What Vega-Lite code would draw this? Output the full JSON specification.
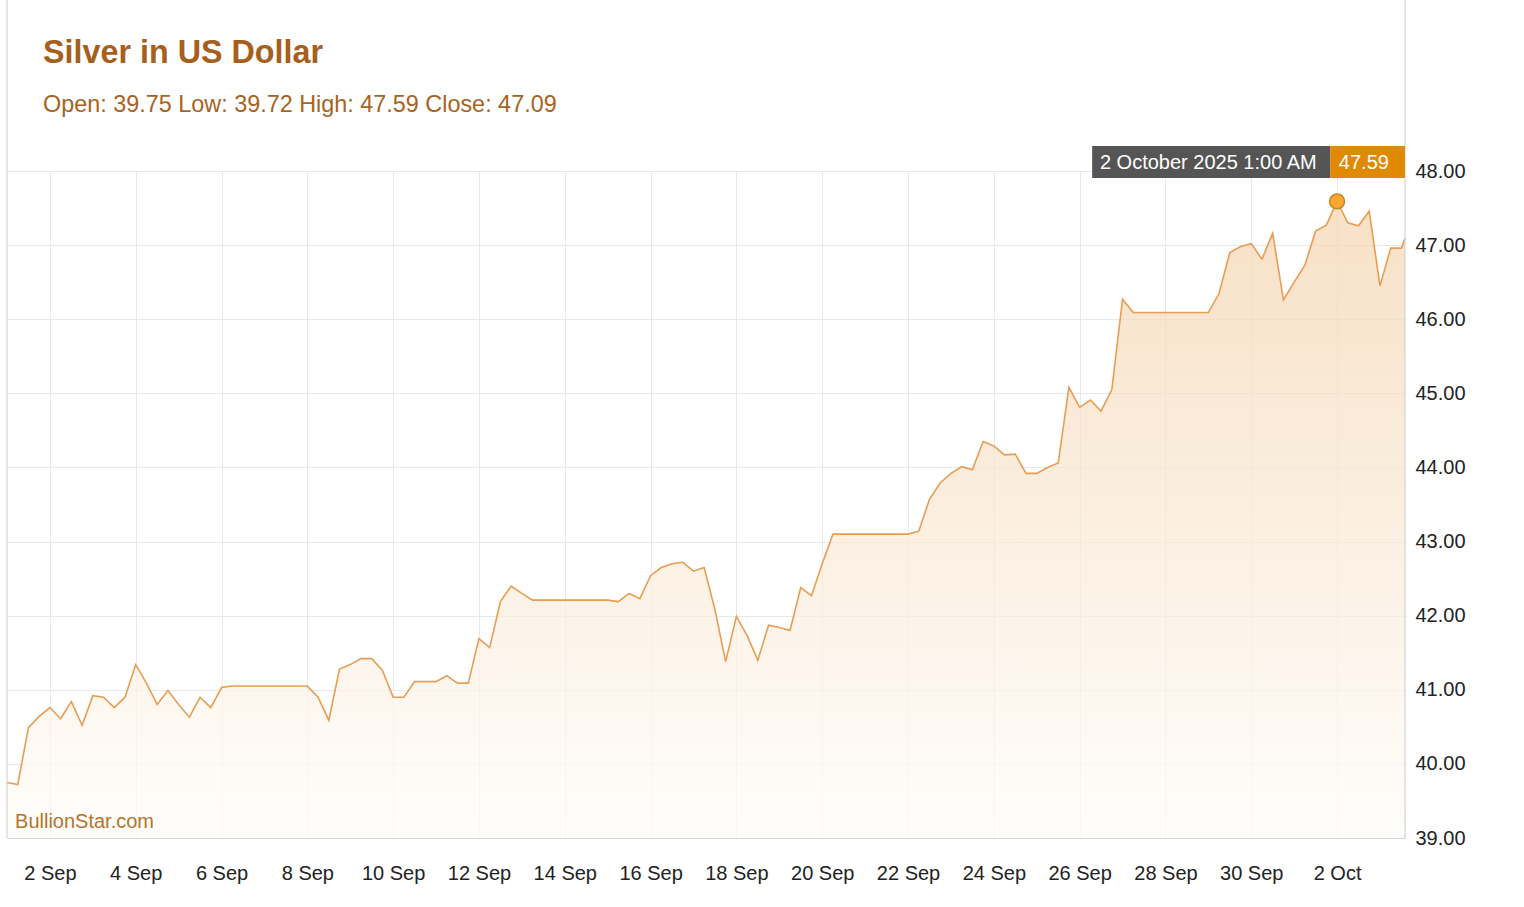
{
  "$schema": "https://vega.github.io/schema/vega-lite/v6.json",
  "width": 1398,
  "height": 667,
  "autosize": {"type": "none"},
  "padding": {"left": 7, "top": 171, "right": 119, "bottom": 69},
  "background": "#ffffff",
  "config": {
    "view": {"stroke": null},
    "font": "Liberation Sans"
  },
  "title": {
    "text": "Silver in US Dollar",
    "subtitle": "Open: 39.75 Low: 39.72 High: 47.59 Close: 47.09",
    "anchor": "start",
    "frame": "group",
    "orient": "top",
    "offset": 0,
    "dx": 36,
    "dy": 117,
    "font": "Liberation Sans",
    "fontSize": 32.3,
    "fontWeight": "bold",
    "color": "#a65f1c",
    "subtitleFont": "Liberation Sans",
    "subtitleFontSize": 23.4,
    "subtitleColor": "#a8631f",
    "subtitlePadding": 25
  },
  "data": {
    "values": [
      {"t": "2025-09-01T00:00Z", "v": 39.75}, {"t": "2025-09-01T06:00Z", "v": 39.72}, {"t": "2025-09-01T12:00Z", "v": 40.49}, {"t": "2025-09-01T18:00Z", "v": 40.64},
      {"t": "2025-09-02T00:00Z", "v": 40.76}, {"t": "2025-09-02T06:00Z", "v": 40.61}, {"t": "2025-09-02T12:00Z", "v": 40.84}, {"t": "2025-09-02T18:00Z", "v": 40.52},
      {"t": "2025-09-03T00:00Z", "v": 40.92}, {"t": "2025-09-03T06:00Z", "v": 40.90}, {"t": "2025-09-03T12:00Z", "v": 40.76}, {"t": "2025-09-03T18:00Z", "v": 40.90},
      {"t": "2025-09-04T00:00Z", "v": 41.34}, {"t": "2025-09-04T06:00Z", "v": 41.09}, {"t": "2025-09-04T12:00Z", "v": 40.80}, {"t": "2025-09-04T18:00Z", "v": 40.99},
      {"t": "2025-09-05T00:00Z", "v": 40.80}, {"t": "2025-09-05T06:00Z", "v": 40.63}, {"t": "2025-09-05T12:00Z", "v": 40.90}, {"t": "2025-09-05T18:00Z", "v": 40.76},
      {"t": "2025-09-06T00:00Z", "v": 41.03}, {"t": "2025-09-06T06:00Z", "v": 41.05}, {"t": "2025-09-06T12:00Z", "v": 41.05}, {"t": "2025-09-06T18:00Z", "v": 41.05},
      {"t": "2025-09-07T00:00Z", "v": 41.05}, {"t": "2025-09-07T06:00Z", "v": 41.05}, {"t": "2025-09-07T12:00Z", "v": 41.05}, {"t": "2025-09-07T18:00Z", "v": 41.05},
      {"t": "2025-09-08T00:00Z", "v": 41.05}, {"t": "2025-09-08T06:00Z", "v": 40.90}, {"t": "2025-09-08T12:00Z", "v": 40.59}, {"t": "2025-09-08T18:00Z", "v": 41.28},
      {"t": "2025-09-09T00:00Z", "v": 41.34}, {"t": "2025-09-09T06:00Z", "v": 41.42}, {"t": "2025-09-09T12:00Z", "v": 41.42}, {"t": "2025-09-09T18:00Z", "v": 41.26},
      {"t": "2025-09-10T00:00Z", "v": 40.90}, {"t": "2025-09-10T06:00Z", "v": 40.90}, {"t": "2025-09-10T12:00Z", "v": 41.11}, {"t": "2025-09-10T18:00Z", "v": 41.11},
      {"t": "2025-09-11T00:00Z", "v": 41.11}, {"t": "2025-09-11T06:00Z", "v": 41.19}, {"t": "2025-09-11T12:00Z", "v": 41.09}, {"t": "2025-09-11T18:00Z", "v": 41.09},
      {"t": "2025-09-12T00:00Z", "v": 41.69}, {"t": "2025-09-12T06:00Z", "v": 41.57}, {"t": "2025-09-12T12:00Z", "v": 42.19}, {"t": "2025-09-12T18:00Z", "v": 42.40},
      {"t": "2025-09-13T00:00Z", "v": 42.30}, {"t": "2025-09-13T06:00Z", "v": 42.21}, {"t": "2025-09-13T12:00Z", "v": 42.21}, {"t": "2025-09-13T18:00Z", "v": 42.21},
      {"t": "2025-09-14T00:00Z", "v": 42.21}, {"t": "2025-09-14T06:00Z", "v": 42.21}, {"t": "2025-09-14T12:00Z", "v": 42.21}, {"t": "2025-09-14T18:00Z", "v": 42.21},
      {"t": "2025-09-15T00:00Z", "v": 42.21}, {"t": "2025-09-15T06:00Z", "v": 42.19}, {"t": "2025-09-15T12:00Z", "v": 42.30}, {"t": "2025-09-15T18:00Z", "v": 42.23},
      {"t": "2025-09-16T00:00Z", "v": 42.54}, {"t": "2025-09-16T06:00Z", "v": 42.65}, {"t": "2025-09-16T12:00Z", "v": 42.70}, {"t": "2025-09-16T18:00Z", "v": 42.72},
      {"t": "2025-09-17T00:00Z", "v": 42.60}, {"t": "2025-09-17T06:00Z", "v": 42.65}, {"t": "2025-09-17T12:00Z", "v": 42.08}, {"t": "2025-09-17T18:00Z", "v": 41.38},
      {"t": "2025-09-18T00:00Z", "v": 41.99}, {"t": "2025-09-18T06:00Z", "v": 41.73}, {"t": "2025-09-18T12:00Z", "v": 41.40}, {"t": "2025-09-18T18:00Z", "v": 41.87},
      {"t": "2025-09-19T00:00Z", "v": 41.84}, {"t": "2025-09-19T06:00Z", "v": 41.80}, {"t": "2025-09-19T12:00Z", "v": 42.38}, {"t": "2025-09-19T18:00Z", "v": 42.27},
      {"t": "2025-09-20T00:00Z", "v": 42.70}, {"t": "2025-09-20T06:00Z", "v": 43.10}, {"t": "2025-09-20T12:00Z", "v": 43.10}, {"t": "2025-09-20T18:00Z", "v": 43.10},
      {"t": "2025-09-21T00:00Z", "v": 43.10}, {"t": "2025-09-21T06:00Z", "v": 43.10}, {"t": "2025-09-21T12:00Z", "v": 43.10}, {"t": "2025-09-21T18:00Z", "v": 43.10},
      {"t": "2025-09-22T00:00Z", "v": 43.10}, {"t": "2025-09-22T06:00Z", "v": 43.14}, {"t": "2025-09-22T12:00Z", "v": 43.57}, {"t": "2025-09-22T18:00Z", "v": 43.79},
      {"t": "2025-09-23T00:00Z", "v": 43.92}, {"t": "2025-09-23T06:00Z", "v": 44.01}, {"t": "2025-09-23T12:00Z", "v": 43.97}, {"t": "2025-09-23T18:00Z", "v": 44.35},
      {"t": "2025-09-24T00:00Z", "v": 44.29}, {"t": "2025-09-24T06:00Z", "v": 44.17}, {"t": "2025-09-24T12:00Z", "v": 44.18}, {"t": "2025-09-24T18:00Z", "v": 43.92},
      {"t": "2025-09-25T00:00Z", "v": 43.92}, {"t": "2025-09-25T06:00Z", "v": 44.00}, {"t": "2025-09-25T12:00Z", "v": 44.06}, {"t": "2025-09-25T18:00Z", "v": 45.08},
      {"t": "2025-09-26T00:00Z", "v": 44.81}, {"t": "2025-09-26T06:00Z", "v": 44.91}, {"t": "2025-09-26T12:00Z", "v": 44.76}, {"t": "2025-09-26T18:00Z", "v": 45.05},
      {"t": "2025-09-27T00:00Z", "v": 46.27}, {"t": "2025-09-27T06:00Z", "v": 46.09}, {"t": "2025-09-27T12:00Z", "v": 46.09}, {"t": "2025-09-27T18:00Z", "v": 46.09},
      {"t": "2025-09-28T00:00Z", "v": 46.09}, {"t": "2025-09-28T06:00Z", "v": 46.09}, {"t": "2025-09-28T12:00Z", "v": 46.09}, {"t": "2025-09-28T18:00Z", "v": 46.09},
      {"t": "2025-09-29T00:00Z", "v": 46.09}, {"t": "2025-09-29T06:00Z", "v": 46.35}, {"t": "2025-09-29T12:00Z", "v": 46.90}, {"t": "2025-09-29T18:00Z", "v": 46.98},
      {"t": "2025-09-30T00:00Z", "v": 47.02}, {"t": "2025-09-30T06:00Z", "v": 46.81}, {"t": "2025-09-30T12:00Z", "v": 47.16}, {"t": "2025-09-30T18:00Z", "v": 46.26},
      {"t": "2025-10-01T00:00Z", "v": 46.50}, {"t": "2025-10-01T06:00Z", "v": 46.73}, {"t": "2025-10-01T12:00Z", "v": 47.19}, {"t": "2025-10-01T18:00Z", "v": 47.27},
      {"t": "2025-10-02T00:00Z", "v": 47.59}, {"t": "2025-10-02T06:00Z", "v": 47.30}, {"t": "2025-10-02T12:00Z", "v": 47.26}, {"t": "2025-10-02T18:00Z", "v": 47.46},
      {"t": "2025-10-03T00:00Z", "v": 46.45}, {"t": "2025-10-03T06:00Z", "v": 46.96}, {"t": "2025-10-03T12:00Z", "v": 46.96}, {"t": "2025-10-03T14:00Z", "v": 47.09}
    ]
  },
  "layer": [
    {
      "mark": {
        "type": "area",
        "interpolate": "linear",
        "color": {
          "gradient": "linear",
          "x1": 0, "y1": 0, "x2": 0, "y2": 1,
          "stops": [
            {"offset": 0, "color": "#f4d3ad"},
            {"offset": 1, "color": "#fffdfa"}
          ]
        },
        "line": {"color": "#e89d52", "strokeWidth": 1.6}
      },
      "encoding": {
        "x": {
          "field": "t",
          "type": "temporal",
          "scale": {
            "type": "utc",
            "domain": [
              {"year": 2025, "month": 9, "date": 1, "hours": 0, "utc": true},
              {"year": 2025, "month": 10, "date": 3, "hours": 14, "utc": true}
            ],
            "nice": false
          },
          "axis": {
            "title": null,
            "values": [
              {"year": 2025, "month": 9, "date": 2, "utc": true},
              {"year": 2025, "month": 9, "date": 4, "utc": true},
              {"year": 2025, "month": 9, "date": 6, "utc": true},
              {"year": 2025, "month": 9, "date": 8, "utc": true},
              {"year": 2025, "month": 9, "date": 10, "utc": true},
              {"year": 2025, "month": 9, "date": 12, "utc": true},
              {"year": 2025, "month": 9, "date": 14, "utc": true},
              {"year": 2025, "month": 9, "date": 16, "utc": true},
              {"year": 2025, "month": 9, "date": 18, "utc": true},
              {"year": 2025, "month": 9, "date": 20, "utc": true},
              {"year": 2025, "month": 9, "date": 22, "utc": true},
              {"year": 2025, "month": 9, "date": 24, "utc": true},
              {"year": 2025, "month": 9, "date": 26, "utc": true},
              {"year": 2025, "month": 9, "date": 28, "utc": true},
              {"year": 2025, "month": 9, "date": 30, "utc": true},
              {"year": 2025, "month": 10, "date": 2, "utc": true}
            ],
            "labelExpr": "utcFormat(datum.value, '%-d %b')",
            "grid": true,
            "gridColor": "#e8e8e8",
            "gridWidth": 1,
            "domain": true,
            "domainColor": "#d4d4d4",
            "domainWidth": 1,
            "ticks": false,
            "labelFont": "Liberation Sans",
            "labelFontSize": 20,
            "labelColor": "#222222",
            "labelPadding": 25,
            "labelFlush": false,
            "labelOverlap": false
          }
        },
        "y": {
          "field": "v",
          "type": "quantitative",
          "scale": {"domain": [39, 48], "nice": false, "zero": false},
          "axis": {
            "orient": "right",
            "title": null,
            "values": [39, 40, 41, 42, 43, 44, 45, 46, 47, 48],
            "format": ".2f",
            "grid": true,
            "gridColor": "#e8e8e8",
            "gridWidth": 1,
            "domain": false,
            "ticks": false,
            "labelFont": "Liberation Sans",
            "labelFontSize": 20,
            "labelColor": "#222222",
            "labelPadding": 10,
            "labelAlign": "left",
            "labelBaseline": "middle"
          }
        },
        "y2": {"datum": 39}
      }
    },
    {
      "transform": [{"filter": {"field": "v", "equal": 47.59}}],
      "mark": {"type": "point", "filled": true, "size": 220, "color": "#f9a832", "stroke": "#c7851f", "strokeWidth": 1.5, "opacity": 1},
      "encoding": {
        "x": {"field": "t", "type": "temporal"},
        "y": {"field": "v", "type": "quantitative"}
      }
    },
    {
      "data": {"values": [{}]},
      "mark": {"type": "rule", "color": "#cccccc", "strokeWidth": 1},
      "encoding": {
        "x": {"datum": {"year": 2025, "month": 9, "date": 1, "hours": 0, "utc": true}, "type": "temporal"},
        "y": {"datum": 39, "type": "quantitative"},
        "y2": {"datum": 50.31}
      }
    },
    {
      "data": {"values": [{}]},
      "mark": {"type": "rule", "color": "#cccccc", "strokeWidth": 1},
      "encoding": {
        "x": {"datum": {"year": 2025, "month": 10, "date": 3, "hours": 14, "utc": true}, "type": "temporal"},
        "y": {"datum": 39, "type": "quantitative"},
        "y2": {"datum": 50.31}
      }
    },
    {
      "data": {"values": [{}]},
      "mark": {"type": "rect", "color": "#555555"},
      "encoding": {
        "x": {"datum": {"year": 2025, "month": 9, "date": 26, "hours": 7, "utc": true}, "type": "temporal"},
        "x2": {"datum": {"year": 2025, "month": 10, "date": 1, "hours": 20, "minutes": 8, "utc": true}},
        "y": {"datum": 47.906, "type": "quantitative"},
        "y2": {"datum": 48.337}
      }
    },
    {
      "data": {"values": [{}]},
      "mark": {"type": "rect", "color": "#df8a02"},
      "encoding": {
        "x": {"datum": {"year": 2025, "month": 10, "date": 1, "hours": 20, "minutes": 8, "utc": true}, "type": "temporal"},
        "x2": {"datum": {"year": 2025, "month": 10, "date": 3, "hours": 14, "utc": true}},
        "y": {"datum": 47.906, "type": "quantitative"},
        "y2": {"datum": 48.337}
      }
    },
    {
      "data": {"values": [{}]},
      "mark": {"type": "text", "color": "#ffffff", "font": "Liberation Sans", "fontSize": 20, "align": "center", "baseline": "middle"},
      "encoding": {
        "x": {"datum": {"year": 2025, "month": 9, "date": 29, "hours": 0, "utc": true}, "type": "temporal"},
        "y": {"datum": 48.11, "type": "quantitative"},
        "text": {"value": "2 October 2025 1:00 AM"}
      }
    },
    {
      "data": {"values": [{}]},
      "mark": {"type": "text", "color": "#ffffff", "font": "Liberation Sans", "fontSize": 20, "align": "center", "baseline": "middle"},
      "encoding": {
        "x": {"datum": {"year": 2025, "month": 10, "date": 2, "hours": 15, "utc": true}, "type": "temporal"},
        "y": {"datum": 48.11, "type": "quantitative"},
        "text": {"value": "47.59"}
      }
    },
    {
      "data": {"values": [{}]},
      "mark": {"type": "text", "color": "#b5742a", "font": "Liberation Sans", "fontSize": 20, "align": "left", "baseline": "middle"},
      "encoding": {
        "x": {"datum": {"year": 2025, "month": 9, "date": 1, "hours": 4, "minutes": 30, "utc": true}, "type": "temporal"},
        "y": {"datum": 39.216, "type": "quantitative"},
        "text": {"value": "BullionStar.com"}
      }
    }
  ]
}
